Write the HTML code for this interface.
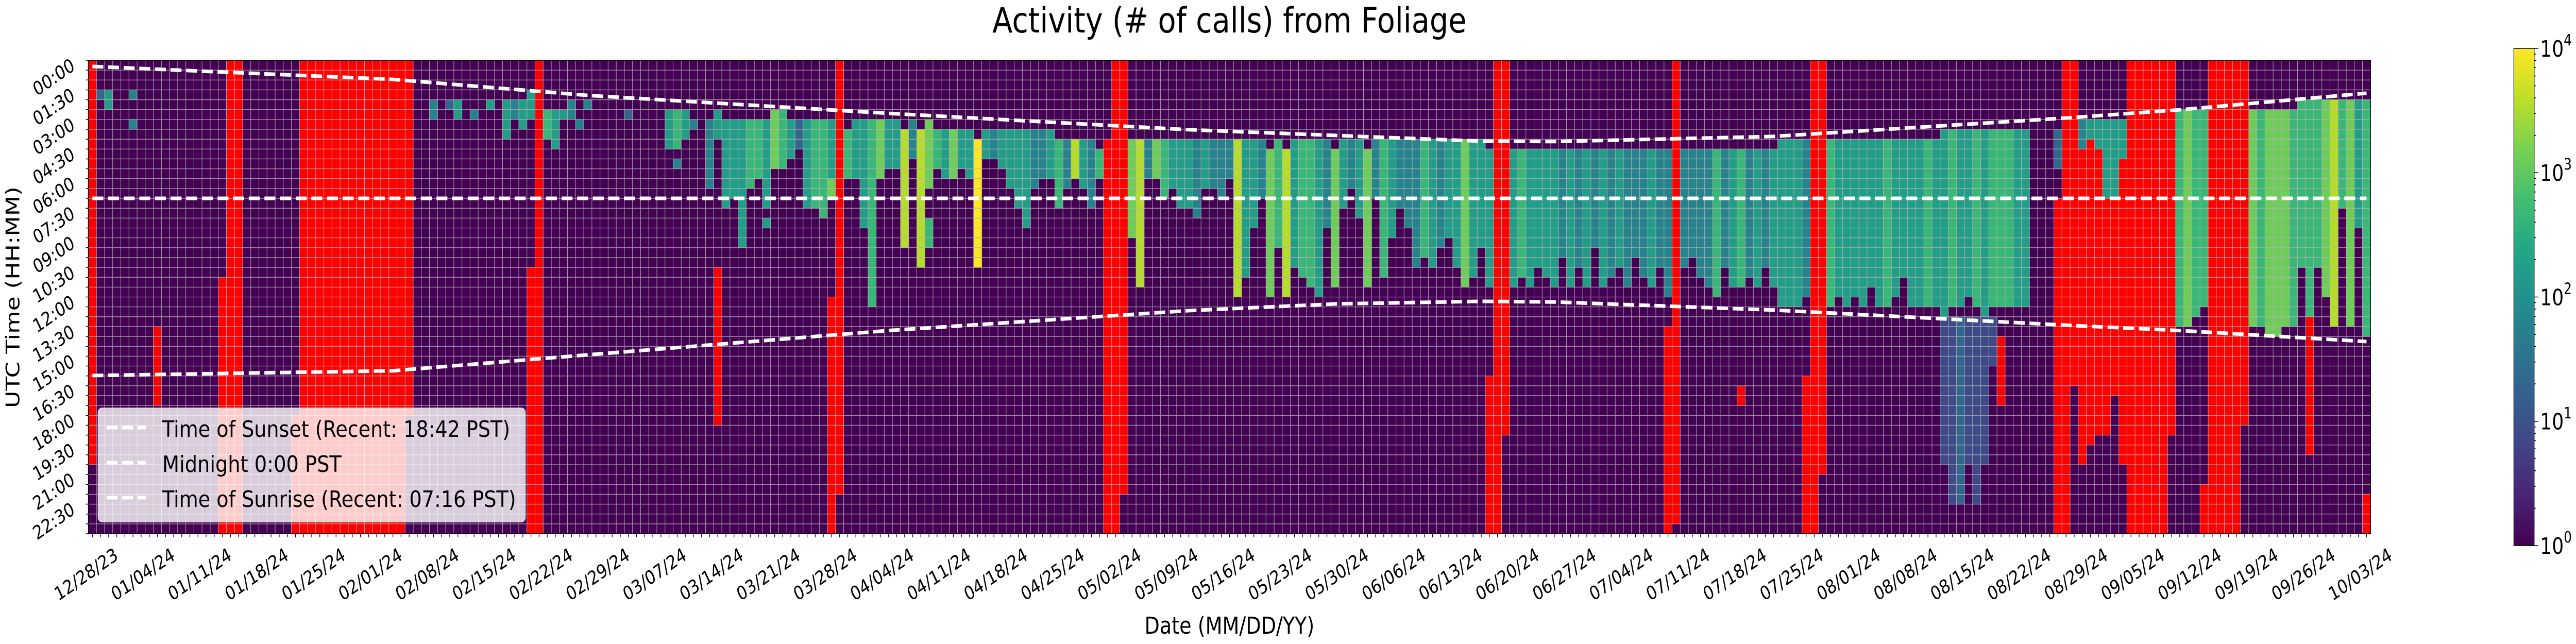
<!DOCTYPE html>
<html><head><meta charset="utf-8"><title>Activity heatmap</title>
<style>html,body{margin:0;padding:0;background:#fff;width:100%;height:100%;overflow:hidden}svg{display:block;width:100vw;height:100vh}text{font-family:"DejaVu Sans","Liberation Sans",sans-serif;fill:#000}</style>
</head><body>
<svg id="chart" xmlns="http://www.w3.org/2000/svg" viewBox="0 0 6095 1250" preserveAspectRatio="none" overflow="hidden">
<defs>
<linearGradient id="vir" x1="0" y1="1" x2="0" y2="0">
<stop offset="0" stop-color="#440154"/><stop offset="0.1" stop-color="#482475"/><stop offset="0.2" stop-color="#414487"/><stop offset="0.3" stop-color="#355f8d"/><stop offset="0.4" stop-color="#2a788e"/><stop offset="0.5" stop-color="#21918c"/><stop offset="0.6" stop-color="#22a884"/><stop offset="0.7" stop-color="#44bf70"/><stop offset="0.8" stop-color="#7ad151"/><stop offset="0.9" stop-color="#bddf26"/><stop offset="1" stop-color="#fde725"/>
</linearGradient>
</defs>
<text x="2909" y="63" font-size="68" text-anchor="middle" textLength="1122" lengthAdjust="spacingAndGlyphs">Activity (# of calls) from Foliage</text>
<g id="cells"></g>
<g id="grid"></g>
<g id="lines"></g>
<rect x="209" y="117" width="5400" height="919" fill="none" stroke="#000" stroke-width="1.5"/>
<g id="xaxis"></g>
<g id="yaxis"></g>
<text x="2909" y="1230" font-size="45" text-anchor="middle" textLength="402" lengthAdjust="spacingAndGlyphs">Date (MM/DD/YY)</text>
<text transform="translate(46,577) rotate(-90)" font-size="45" text-anchor="middle" textLength="430" lengthAdjust="spacingAndGlyphs">UTC Time (HH:MM)</text>
<g>
<rect x="232" y="792" width="1011" height="221" rx="9" fill="#fff" fill-opacity="0.8" stroke="#ddd" stroke-width="1.5"/>
<line x1="252" y1="830" x2="346" y2="830" stroke="#fff" stroke-width="7" stroke-dasharray="26,11"/>
<text x="384" y="848" font-size="44" textLength="823" lengthAdjust="spacingAndGlyphs">Time of Sunset (Recent: 18:42 PST)</text>
<line x1="252" y1="898" x2="346" y2="898" stroke="#fff" stroke-width="7" stroke-dasharray="26,11"/>
<text x="384" y="916" font-size="44" textLength="424" lengthAdjust="spacingAndGlyphs">Midnight 0:00 PST</text>
<line x1="252" y1="966" x2="346" y2="966" stroke="#fff" stroke-width="7" stroke-dasharray="26,11"/>
<text x="384" y="984" font-size="44" textLength="837" lengthAdjust="spacingAndGlyphs">Time of Sunrise (Recent: 07:16 PST)</text>
</g>
<g id="cbar">
<rect x="5948" y="94" width="48" height="965" fill="url(#vir)" stroke="#000" stroke-width="1.5"/>
</g>
</svg>
<script>
// ---- data ----
const dateLabels = ['12/28/23','01/04/24','01/11/24','01/18/24','01/25/24','02/01/24','02/08/24','02/15/24','02/22/24','02/29/24','03/07/24','03/14/24','03/21/24','03/28/24','04/04/24','04/11/24','04/18/24','04/25/24','05/02/24','05/09/24','05/16/24','05/23/24','05/30/24','06/06/24','06/13/24','06/20/24','06/27/24','07/04/24','07/11/24','07/18/24','07/25/24','08/01/24','08/08/24','08/15/24','08/22/24','08/29/24','09/05/24','09/12/24','09/19/24','09/26/24','10/03/24'];
const timeLabels = ['00:00','01:30','03:00','04:30','06:00','07:30','09:00','10:30','12:00','13:30','15:00','16:30','18:00','19:30','21:00','22:30'];
const cbarLabels = ['0','1','2','3','4'];
// per-day runs "startRow-endRow:level" (level 0-9 on log scale 10^0..10^4, r = missing/red)
const dayRuns = [
"0-40:r","3-3:3","3-4:5","","","3-3:4;6-6:4","","","27-34:r","",
"","","","","","","22-47:r","0-47:r","0-47:r","",
"","","","","","36-47:r","0-47:r","0-47:r","0-47:r","0-47:r",
"0-47:r","0-47:r","0-47:r","0-47:r","0-47:r","0-47:r","0-47:r","0-47:r","0-47:r","0-35:r",
"","","4-5:4","","4-4:3","4-5:5","","5-5:4","","4-4:5",
"","4-7:5","4-5:4","4-6:5","3-5:5;21-47:r","0-47:r","5-7:6","5-8:5","5-5:5","4-5:4",
"6-6:4","4-4:4","","","","","5-5:3","","","",
"","5-8:5","5-8:6;10-10:4","5-7:5","6-6:4","","6-12:4","5-7:5;21-36:r","6-14:5","6-13:5",
"6-18:5","6-12:6","6-11:6","6-14:5;16-16:5","5-10:7","5-10:6","6-9:5","6-8:3","6-14:5","6-14:6",
"6-15:6","6-11:5;12-13:7;24-47:r","0-43:r","7-11:6","6-11:5","6-16:5","6-24:6","6-11:7","6-10:5","6-10:5",
"7-18:8","6-9:4","7-20:8","6-12:7;16-18:6","7-10:6","7-11:5","7-11:7","7-10:5","7-11:5","8-20:9",
"7-9:5","7-9:4","7-10:5","7-12:5","7-14:5","7-16:5","7-12:4","7-11:4","7-11:5","8-14:6",
"8-12:4","8-11:8","8-12:5","8-14:4","9-11:6","8-47:r","0-47:r","0-43:r","8-17:7","8-22:8",
"8-11:4","8-11:7","8-13:6","8-12:5","8-14:5","8-14:5","8-15:4","8-12:5","8-12:4","8-13:4",
"8-11:4","8-23:8","8-21:5","8-16:5","8-13:4","9-23:7","8-18:6","9-23:8","8-20:5","8-21:6",
"8-22:6","8-23:5","8-16:4","9-22:7","8-14:5","8-12:4","8-15:5","9-22:7","8-13:4","8-21:6",
"8-17:5","8-14:4","8-16:4","8-20:4","8-19:6","8-20:5","8-18:4","8-17:5","8-20:5","8-22:7",
"8-21:5","8-18:5","9-22:5;32-47:r","0-47:r","0-37:r","9-22:5","9-21:6","9-22:5","9-20:5","9-21:5",
"9-22:5","9-19:4","9-22:5","9-20:4","9-22:5","9-18:4","9-22:5","9-21:4","9-20:5","9-22:4",
"9-19:4","9-21:4","9-22:5","9-20:4","9-23:4;27-47:r","0-46:r","9-20:4","9-19:4","9-21:4","9-22:4",
"9-23:6","9-20:4","9-22:5","9-22:6;33-34:r","9-21:4","9-22:5","9-20:4","9-22:5","8-24:5","8-24:5",
"8-24:5","8-23:4;32-47:r","0-47:r","0-41:r","8-24:6","8-23:5","8-24:5","8-23:5","8-24:5","8-22:5",
"8-24:5","8-24:6","8-23:5","8-21:5","8-24:5","8-24:5","8-24:6","8-24:5","7-25:5;26-40:2","7-24:6;26-44:2",
"7-24:5;26-44:3","7-23:5;26-40:2","7-24:6;26-44:2","7-25:5;26-40:2","7-24:6;26-30:2","7-24:6;28-34:r","7-24:6","7-24:5","7-24:5","",
"","","7-10:3;14-47:r","0-47:r","0-32:r","6-8:4;9-40:r","6-7:5;8-38:r","6-8:5;9-37:r","6-13:5;14-37:r","6-13:5;14-33:r",
"6-9:5;10-40:r","0-47:r","0-47:r","0-47:r","0-47:r","0-47:r","0-37:r","5-26:6","5-26:7","5-25:6",
"5-24:6;43-47:r","0-47:r","0-47:r","0-47:r","0-47:r","0-36:r","5-26:7","5-26:6","5-27:7","5-27:7",
"5-26:7","5-26:6","4-20:6","4-25:6;26-39:r","4-20:6","4-23:7","4-26:8","4-14:6","4-26:7","4-16:5",
"4-27:6;44-47:r"
];
// reference lines: day index and UTC hour
const lineDays = [0,37,61,98,135,153,171,180,207,244,257,280];
const sunsetHours = [0.31,0.97,1.78,2.69,3.52,3.81,4.10,4.12,3.86,2.90,2.51,1.67];
const sunriseHours = [15.98,15.74,14.93,13.70,12.69,12.35,12.22,12.25,12.66,13.45,13.70,14.26];
const midnightHours = [7,7,7,7,7,7,7,7,7,7,7,7];

// ---- layout ----
const NS='http://www.w3.org/2000/svg';
const X0=209,X1=5609,Y0=117,Y1=1036,NDAYS=281,NROWS=48;
const CW=(X1-X0)/NDAYS, RH=(Y1-Y0)/NROWS;
const xDay=d=>X0+d*CW;
const xDayC=d=>X0+(d+0.5)*CW;
const yRow=r=>Y0+r*RH;
const yHour=h=>Y0+h*2*RH;
const stops=['#440154','#482475','#414487','#355f8d','#2a788e','#21918c','#22a884','#44bf70','#7ad151','#bddf26','#fde725'];
function hex(c){return [1,3,5].map(i=>parseInt(c.substr(i,2),16));}
function viridis(t){t=Math.max(0,Math.min(1,t));const p=t*10,i=Math.min(9,Math.floor(p)),f=p-i;const a=hex(stops[i]),b=hex(stops[i+1]);return 'rgb('+a.map((v,k)=>Math.round(v+(b[k]-v)*f)).join(',')+')';}
const cLog=v=>v/4;
function mk(tag,attrs,parent){const e=document.createElementNS(NS,tag);for(const k in attrs)e.setAttribute(k,attrs[k]);parent.appendChild(e);return e;}

// ---- cells ----
const cells=document.getElementById('cells');
const bg=mk('rect',{x:X0,y:Y0,width:X1-X0,height:Y1-Y0,fill:viridis(0)},cells);


dayRuns.forEach((s,d)=>{
  if(!s)return;
  s.split(';').forEach(run=>{
    const [rng,lv]=run.split(':');const [a,b]=rng.split('-').map(Number);
    const fill = lv==='r' ? '#ff0000' : viridis(cLog(Number(lv)*4/9));
    const r=mk('rect',{x:xDay(d).toFixed(2),y:yRow(a).toFixed(2),width:(CW+0.3).toFixed(2),height:((b-a+1)*RH+0.3).toFixed(2),fill:fill},cells);
    
    
  });
});

// ---- grid ----
const grid=document.getElementById('grid');
let gp='';
for(let d=1;d<NDAYS;d++){const x=xDay(d).toFixed(2);gp+='M'+x+' '+Y0+'V'+Y1;}
for(let r=1;r<NROWS;r++){const y=yRow(r).toFixed(2);gp+='M'+X0+' '+y+'H'+X1;}
const gpath=mk('path',{d:gp,stroke:'#b4b4b4','stroke-width':1.3,'stroke-opacity':0.85,fill:'none'},grid);



// ---- reference lines ----
const lines=document.getElementById('lines');
function drawLine(hours,name){
  const d=lineDays.map((dd,i)=>(i?'L':'M')+xDayC(dd).toFixed(1)+' '+yHour(hours[i]).toFixed(1)).join('');
  const p=mk('path',{d:d,stroke:'#fff','stroke-width':7,'stroke-dasharray':'26,11',fill:'none'},lines);
  
  
}
drawLine(sunsetHours,'sunset-line');
drawLine(midnightHours,'midnight-line');
drawLine(sunriseHours,'sunrise-line');

// ---- x axis ----
const xa=document.getElementById('xaxis');
let xt='';
for(let d=0;d<NDAYS;d++){const x=xDayC(d).toFixed(2);xt+='M'+x+' '+Y1+'v7';}
const xtp=mk('path',{d:xt,stroke:'#000','stroke-width':1.5},xa);


dateLabels.forEach((lab,i)=>{
  const cx=xDayC(i*7)-15, cy=1115;
  const t=mk('text',{x:cx,y:cy,'font-size':37,'text-anchor':'middle','dominant-baseline':'central',transform:'rotate(-30 '+cx+' '+cy+')'},xa);
  t.textContent=lab;
  
  
});

// ---- y axis ----
const ya=document.getElementById('yaxis');
let yt='';
for(let r=0;r<=NROWS;r++){const y=yRow(r).toFixed(2);yt+='M'+X0+' '+y+'h-6';}
const ytp=mk('path',{d:yt,stroke:'#000','stroke-width':1.5},ya);


timeLabels.forEach((lab,i)=>{
  const cx=127, cy=yRow(i*3)+33;
  const t=mk('text',{x:cx,y:cy,'font-size':37,'text-anchor':'middle','dominant-baseline':'central',transform:'rotate(-30 '+cx+' '+cy+')'},ya);
  t.textContent=lab;
  
  
});

// ---- colorbar ----
const cb=document.getElementById('cbar');
const CB0=1059,CB1=94;
const yC=v=>CB0+(CB1-CB0)*v/4;
let ct='';
cbarLabels.forEach((e,i)=>{
  const y=yC(Number(e));ct+='M5996 '+y.toFixed(1)+'h10';
  const t=mk('text',{x:6010,y:y+16,'font-size':44},cb);
  t.textContent='10';
  const s=mk('tspan',{'font-size':30,dy:-22},t);s.textContent=e;
  
  
  
  
});
for(let k=0;k<4;k++)for(let m=2;m<10;m++){const y=yC(k+Math.log10(m));ct+='M5996 '+y.toFixed(1)+'h5';}
const ctp=mk('path',{d:ct,stroke:'#000','stroke-width':1.5},cb);


</script>
</body></html>
